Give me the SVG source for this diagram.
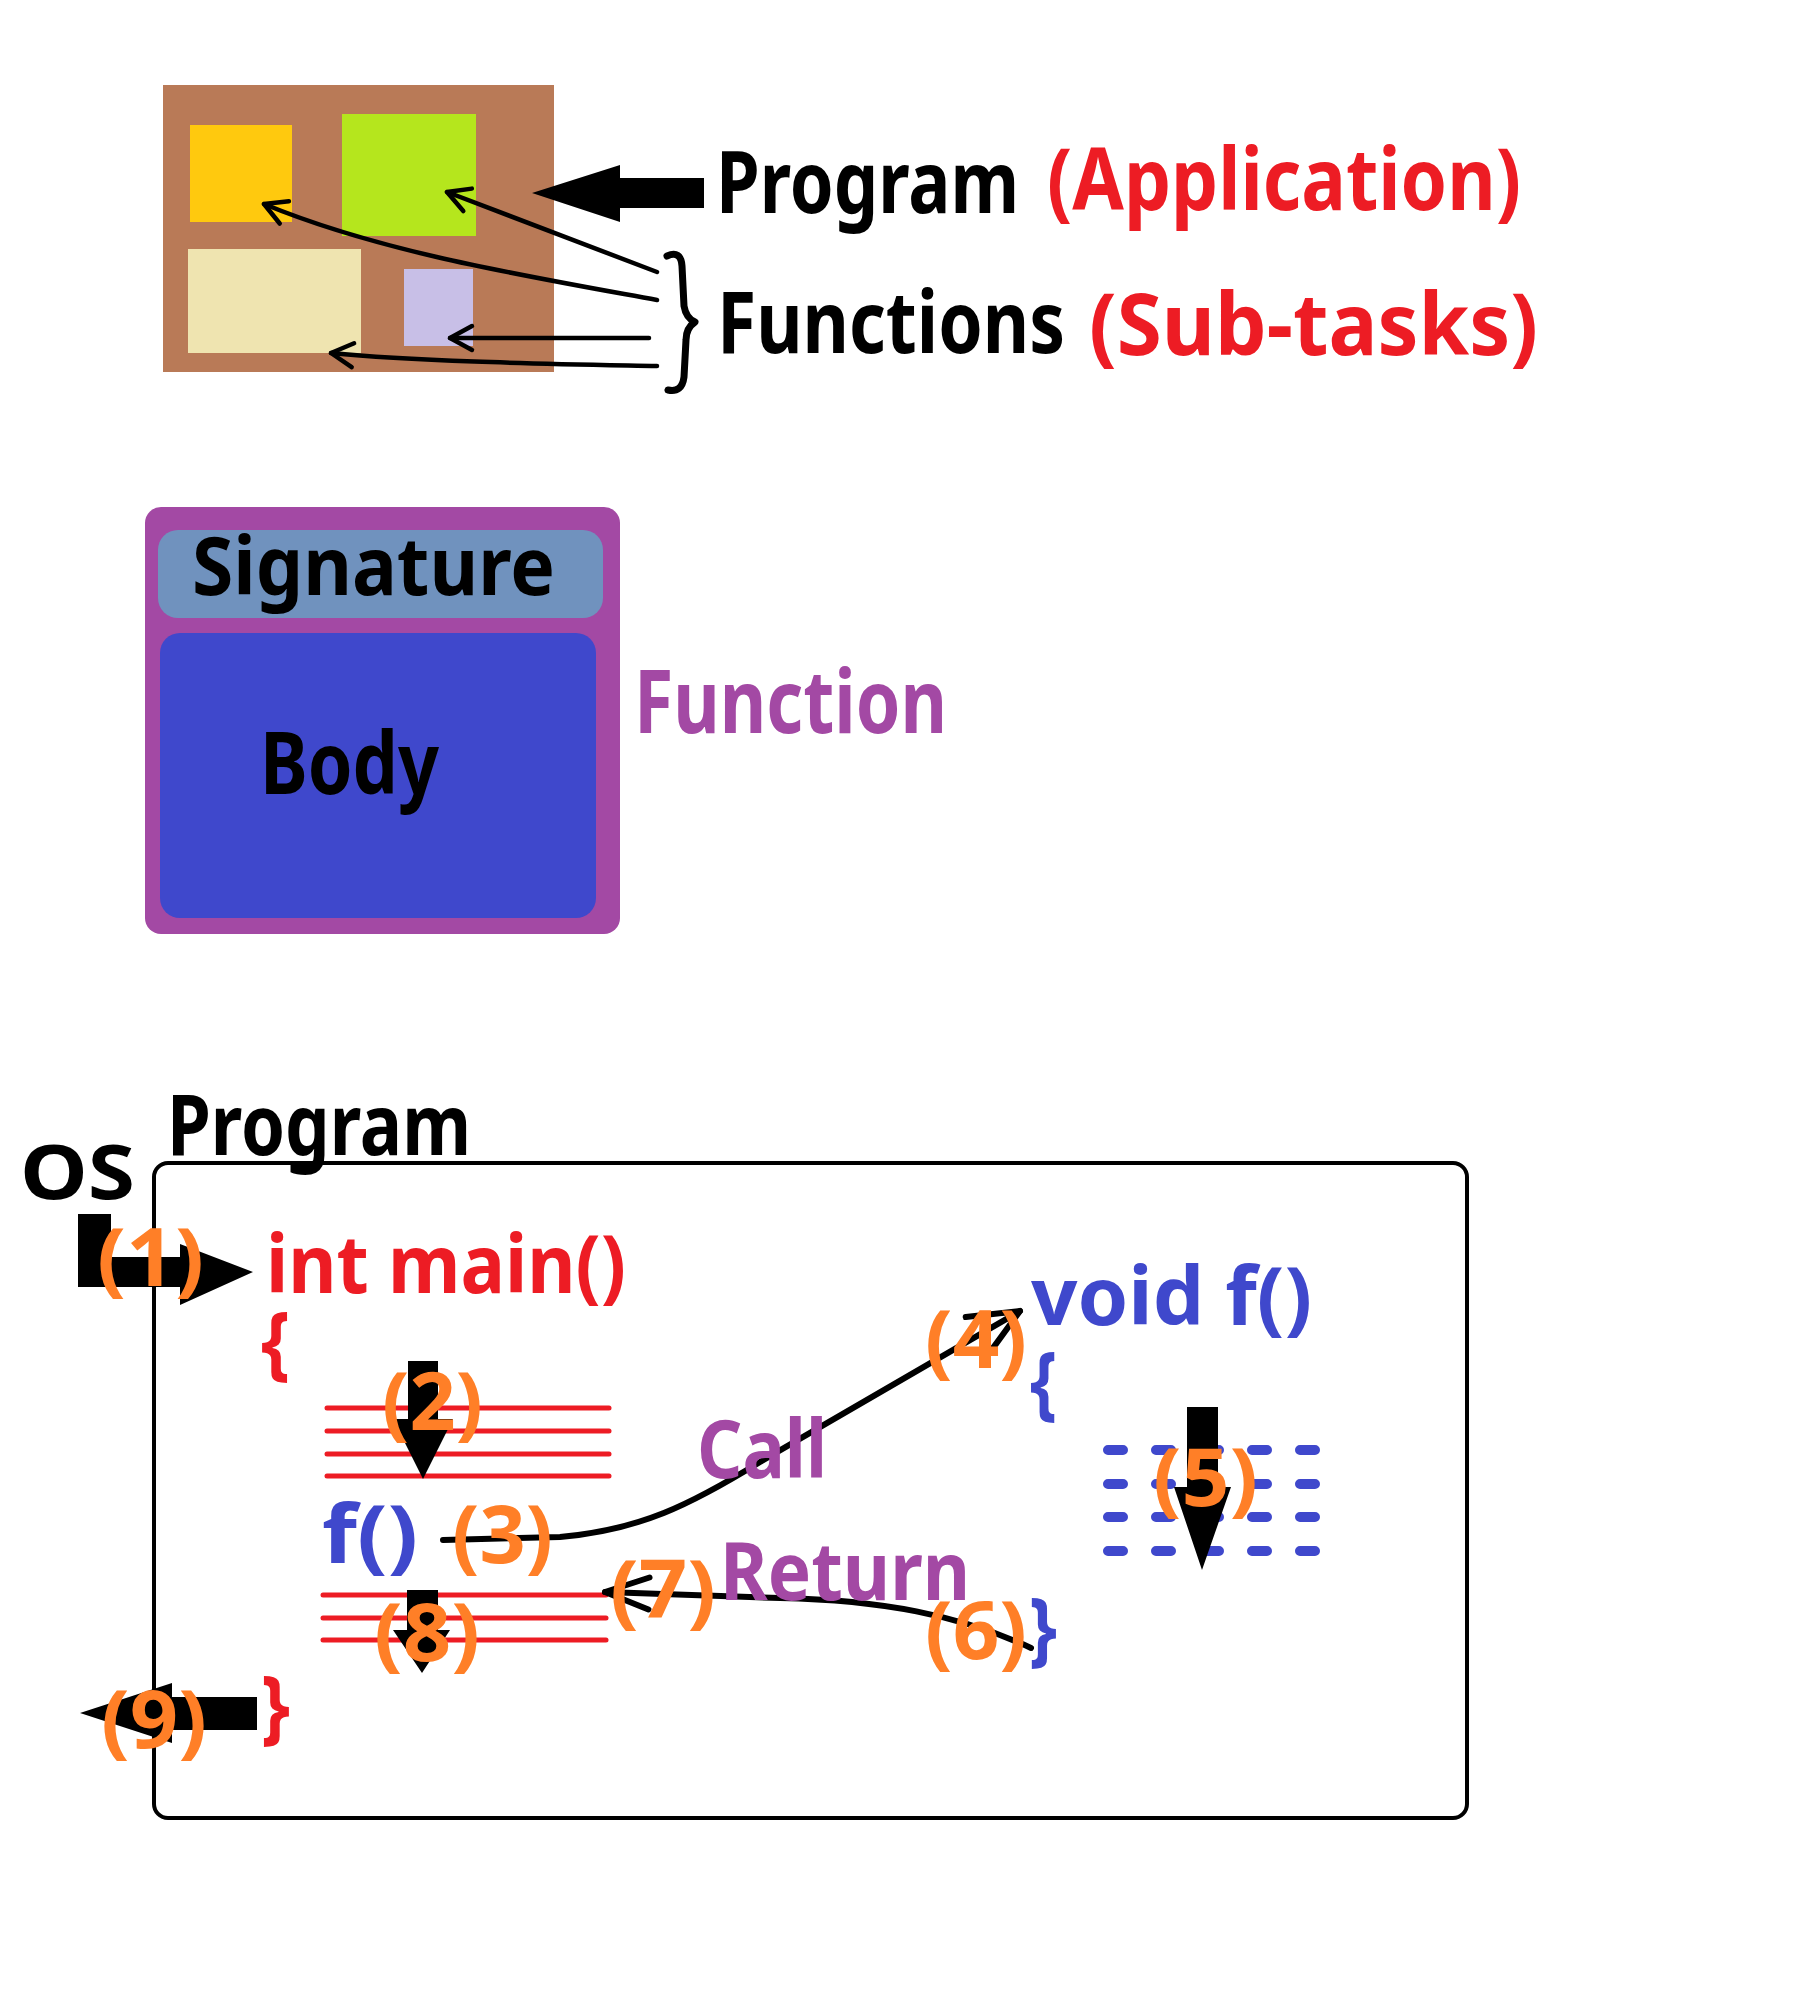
<svg xmlns="http://www.w3.org/2000/svg" width="1800" height="2000" viewBox="0 0 1800 2000">
<defs>
<style>
text{font-family:"Noto Sans","DejaVu Sans",sans-serif;font-weight:700;}
.blk{fill:#000}
.red{fill:#ED1C24}
.blue{fill:#3F48CC}
.pur{fill:#A349A4}
.org{fill:#FF7F27}
.thin{fill:none;stroke:#000;stroke-width:4.5;stroke-linecap:round;stroke-linejoin:round}
.flow{fill:none;stroke:#000;stroke-width:6;stroke-linecap:round;stroke-linejoin:round}
.rl{stroke:#ED1C24;stroke-width:5;stroke-linecap:round}
.bl{stroke:#3F48CC;stroke-width:10;stroke-linecap:round;stroke-dasharray:15 33}
</style>
<marker id="vs" markerUnits="userSpaceOnUse" viewBox="-30 -20 40 40" markerWidth="40" markerHeight="40" refX="0" refY="0" orient="auto">
<path d="M-22,-12 L0,0 L-22,12" fill="none" stroke="#000" stroke-width="4.5" stroke-linecap="round" stroke-linejoin="round"/>
</marker>
<marker id="vb" markerUnits="userSpaceOnUse" viewBox="-60 -30 70 60" markerWidth="70" markerHeight="60" refX="0" refY="0" orient="auto">
<path d="M-50,-22 L0,0 L-50,22" fill="none" stroke="#000" stroke-width="6" stroke-linecap="round" stroke-linejoin="round"/>
</marker>
<marker id="vr" markerUnits="userSpaceOnUse" viewBox="-60 -30 70 60" markerWidth="70" markerHeight="60" refX="0" refY="0" orient="auto">
<path d="M-44,-16 L0,0 L-44,16" fill="none" stroke="#000" stroke-width="6" stroke-linecap="round" stroke-linejoin="round"/>
</marker>
</defs>
<rect width="1800" height="2000" fill="#fff"/>

<!-- Top: program made of functions -->
<g id="program-app">
<rect x="163" y="85" width="391" height="287" fill="#B97A57"/>
<rect id="fn-yellow" x="190" y="125" width="102" height="97" fill="#FFC90E"/>
<rect id="fn-green" x="342" y="114" width="134" height="122" fill="#B5E61D"/>
<rect id="fn-cream" x="188" y="249" width="173" height="104" fill="#EFE4B0"/>
<rect id="fn-lavender" x="404" y="269" width="69" height="77" fill="#C8BFE7"/>
</g>
<g id="top-connectors">
<path class="thin" d="M657,272 L447,192" marker-end="url(#vs)"/>
<path class="thin" d="M657,300 C520,275 380,252 264,204" marker-end="url(#vs)"/>
<path class="thin" d="M649,338 L450,338" marker-end="url(#vs)"/>
<path class="thin" d="M657,366 C560,364 420,362 331,353" marker-end="url(#vs)"/>
<polygon class="blk" points="532,193 620,165 620,178 704,178 704,208 620,208 620,222"/>
<path d="M667,256 Q681,250 682,266 L684,306 Q686,318 695,322 Q686,328 686,340 L684,377 Q682,393 668,390" fill="none" stroke="#000" stroke-width="7" stroke-linecap="round" stroke-linejoin="round"/>
</g>
<g id="top-labels">
<text x="716" y="213" font-size="86" class="blk" textLength="303" lengthAdjust="spacingAndGlyphs">Program</text>
<text x="1047" y="210" font-size="86" class="red" textLength="474" lengthAdjust="spacingAndGlyphs">(Application)</text>
<text x="717" y="353" font-size="86" class="blk" textLength="348" lengthAdjust="spacingAndGlyphs">Functions</text>
<text x="1089" y="355" font-size="86" class="red" textLength="449" lengthAdjust="spacingAndGlyphs">(Sub-tasks)</text>
</g>

<!-- Middle: function anatomy -->
<g id="function-box">
<rect x="145" y="507" width="475" height="427" rx="16" fill="#A349A4"/>
<rect id="signature" x="158" y="530" width="445" height="88" rx="20" fill="#7092BE"/>
<rect id="body" x="160" y="633" width="436" height="285" rx="20" fill="#3F48CC"/>
<text x="192" y="595" font-size="80" class="blk" textLength="363" lengthAdjust="spacingAndGlyphs">Signature</text>
<text x="260" y="794" font-size="86" class="blk" textLength="179" lengthAdjust="spacingAndGlyphs">Body</text>
</g>
<text id="function-label" x="634" y="733" font-size="88" class="pur" textLength="313" lengthAdjust="spacingAndGlyphs">Function</text>

<!-- Bottom: call flow -->
<g id="program-box">
<rect x="154" y="1163" width="1313" height="655" rx="14" fill="none" stroke="#000" stroke-width="4"/>
<text x="167" y="1155" font-size="84" class="blk" textLength="304" lengthAdjust="spacingAndGlyphs">Program</text>
</g>
<text id="os" x="20" y="1199" font-size="76" class="blk" textLength="115" lengthAdjust="spacingAndGlyphs">OS</text>

<g id="main-fn">
<text x="266" y="1293" font-size="80" class="red" textLength="360" lengthAdjust="spacingAndGlyphs">int main()</text>
<text x="261" y="1370" font-size="80" class="red" textLength="29" lengthAdjust="spacingAndGlyphs">{</text>
<line class="rl" x1="327" y1="1408" x2="609" y2="1408"/>
<line class="rl" x1="327" y1="1431" x2="609" y2="1431"/>
<line class="rl" x1="327" y1="1454" x2="609" y2="1454"/>
<line class="rl" x1="327" y1="1476" x2="609" y2="1476"/>
<text x="322" y="1563" font-size="80" class="blue" textLength="96" lengthAdjust="spacingAndGlyphs">f()</text>
<line class="rl" x1="323" y1="1595" x2="606" y2="1595"/>
<line class="rl" x1="323" y1="1618" x2="606" y2="1618"/>
<line class="rl" x1="323" y1="1640" x2="606" y2="1640"/>
<text x="261" y="1734" font-size="80" class="red" textLength="29" lengthAdjust="spacingAndGlyphs">}</text>
</g>

<g id="void-f">
<text x="1031" y="1325" font-size="80" class="blue" textLength="281" lengthAdjust="spacingAndGlyphs">void f()</text>
<text x="1030" y="1410" font-size="80" class="blue" textLength="27" lengthAdjust="spacingAndGlyphs">{</text>
<line class="bl" x1="1108" y1="1450" x2="1320" y2="1450"/>
<line class="bl" x1="1108" y1="1484" x2="1320" y2="1484"/>
<line class="bl" x1="1108" y1="1517" x2="1320" y2="1517"/>
<line class="bl" x1="1108" y1="1551" x2="1320" y2="1551"/>
<text x="1029" y="1656" font-size="80" class="blue" textLength="28" lengthAdjust="spacingAndGlyphs">}</text>
</g>

<g id="connectors">
<path class="flow" d="M443,1540 L560,1537 C640,1530 690,1505 760,1462 L1020,1311" marker-end="url(#vb)"/>
<path class="flow" d="M1031,1648 C960,1615 880,1600 780,1598 L605,1592" marker-end="url(#vr)"/>
<polygon class="blk" points="78,1214 111,1214 111,1257 180,1257 180,1244 253,1272 180,1305 180,1287 78,1287"/>
<polygon class="blk" points="408,1361 438,1361 438,1419 453,1419 423,1479 393,1419 408,1419"/>
<polygon class="blk" points="1187,1407 1218,1407 1218,1487 1231,1487 1202,1570 1174,1487 1187,1487"/>
<polygon class="blk" points="407,1590 438,1590 438,1630 450,1630 422,1673 393,1630 407,1630"/>
<polygon class="blk" points="257,1697 257,1730 172,1730 172,1743 80,1713 172,1683 172,1697"/>
</g>

<g id="flow-labels">
<text x="697" y="1478" font-size="80" class="pur" textLength="130" lengthAdjust="spacingAndGlyphs">Call</text>
<text x="720" y="1600" font-size="80" class="pur" textLength="250" lengthAdjust="spacingAndGlyphs">Return</text>
</g>

<g id="step-numbers">
<text x="97" y="1286" font-size="80" class="org" textLength="107" lengthAdjust="spacingAndGlyphs">(1)</text>
<text x="382" y="1430" font-size="80" class="org" textLength="101" lengthAdjust="spacingAndGlyphs">(2)</text>
<text x="452" y="1563" font-size="80" class="org" textLength="101" lengthAdjust="spacingAndGlyphs">(3)</text>
<text x="925" y="1368" font-size="80" class="org" textLength="102" lengthAdjust="spacingAndGlyphs">(4)</text>
<text x="1153" y="1506" font-size="80" class="org" textLength="105" lengthAdjust="spacingAndGlyphs">(5)</text>
<text x="925" y="1659" font-size="80" class="org" textLength="102" lengthAdjust="spacingAndGlyphs">(6)</text>
<text x="610" y="1618" font-size="80" class="org" textLength="106" lengthAdjust="spacingAndGlyphs">(7)</text>
<text x="374" y="1661" font-size="80" class="org" textLength="106" lengthAdjust="spacingAndGlyphs">(8)</text>
<text x="101" y="1748" font-size="80" class="org" textLength="106" lengthAdjust="spacingAndGlyphs">(9)</text>
</g>
</svg>
